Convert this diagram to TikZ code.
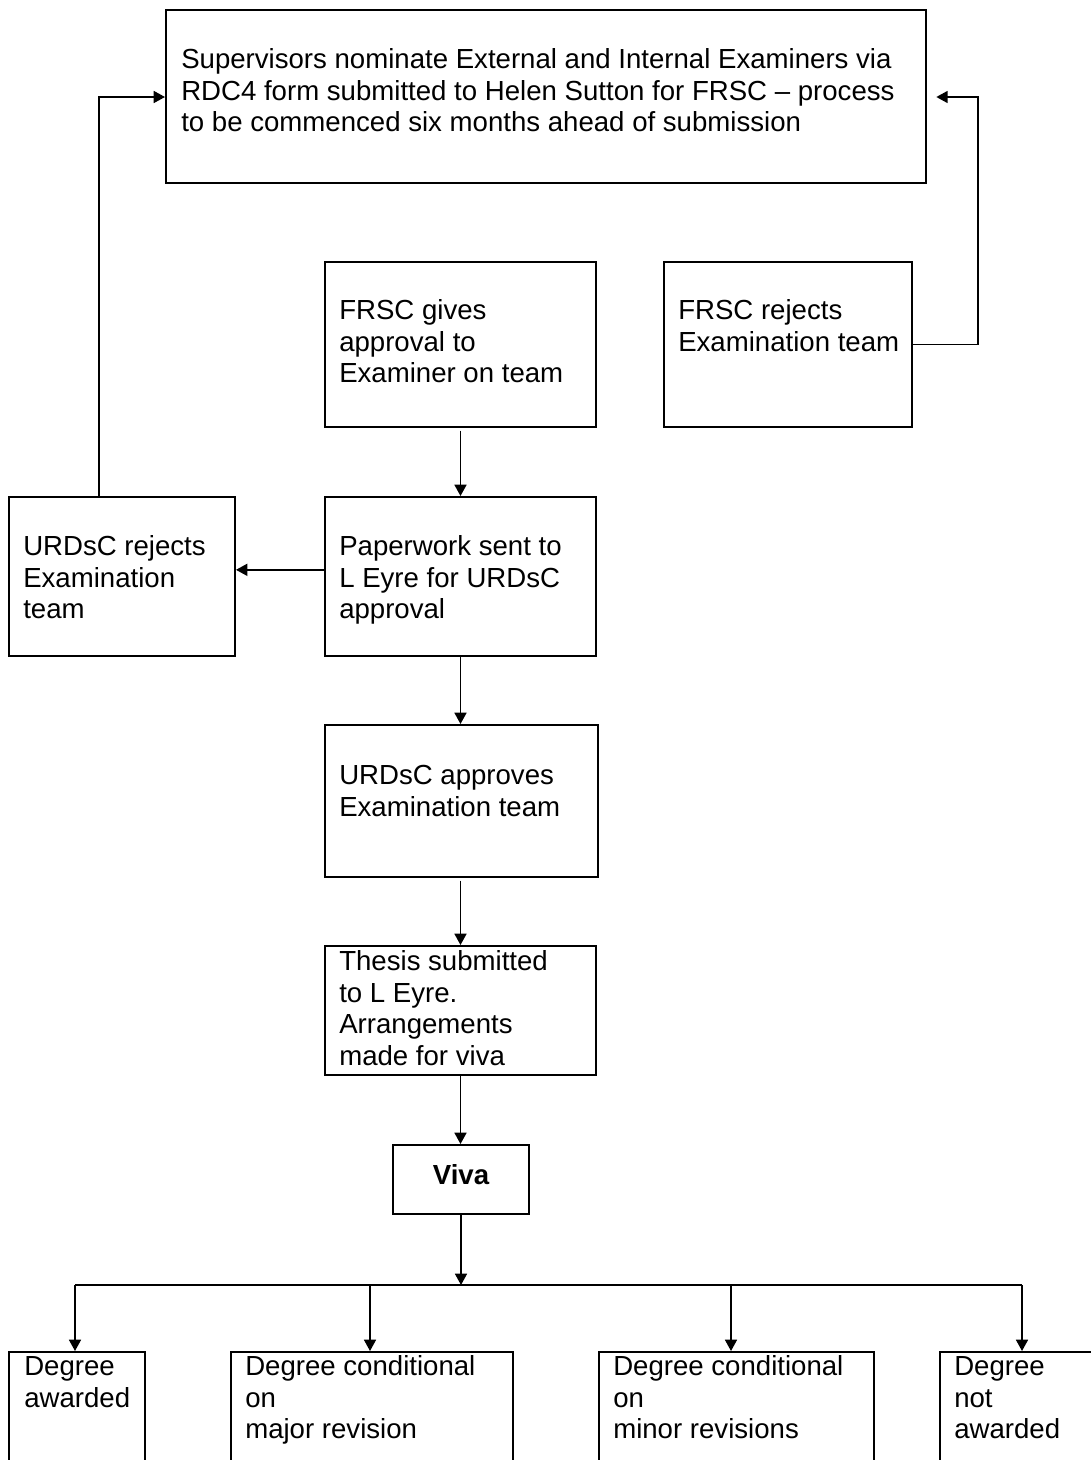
\documentclass[tikz,border=0pt]{standalone}
\usepackage{fontspec}
\setmainfont{Liberation Sans}
\usetikzlibrary{arrows.meta}
\newcommand{\mkbox}[5]{\node[box, minimum width={(#4-#2)*0.75pt}, minimum height={(#5-#3)*0.75pt}] (#1) at ({(#2+#4)/2},{(#3+#5)/2}) {};}
\newcommand{\fst}{\rule{0pt}{15.5pt}}
\tikzset{
  box/.style={draw, line width=1.5pt, rectangle, inner sep=0pt},
  txt/.style={anchor=north west, inner sep=0pt, align=left, font=\fontsize{20.7}{23.6}\selectfont},
  arr/.style={line width=1.2pt, -{Triangle[length=8.5pt,width=9pt]}},
  ln/.style={line width=1.2pt}
}
\begin{document}
\begin{tikzpicture}[x=0.75pt,y=-0.75pt]
\useasboundingbox[fill=white] (0,0) rectangle (1091,1460);
\clip (0,0) rectangle (1091,1460);
% boxes
\mkbox{top}{166}{10}{926}{183}
\mkbox{fgive}{325}{262}{596}{427}
\mkbox{frej}{664}{262}{912}{427}
\mkbox{urej}{9}{497}{235}{656}
\mkbox{paper}{325}{497}{596}{656}
\mkbox{uapp}{325}{725}{598}{877}
\mkbox{thesis}{325}{946}{596}{1075}
\mkbox{viva}{393}{1145}{529}{1214}
\mkbox{b1}{9}{1352}{145}{1490}
\mkbox{b2}{231}{1352}{513}{1490}
\mkbox{b3}{599}{1352}{874}{1490}
\mkbox{b4}{940}{1352}{1110}{1490}
% texts
\node[txt] (ttop) at (181,48) {\fst Supervisors nominate External and Internal Examiners via\\RDC4 form submitted to Helen Sutton for FRSC – process\\to be commenced six months ahead of submission};
\node[txt] (tfgive) at (339,299) {\fst FRSC gives\\approval to\\Examiner on team};
\node[txt] (tfrej) at (678,299) {\fst FRSC rejects\\Examination team};
\node[txt] (turej) at (23,535) {\fst URDsC rejects\\Examination\\team};
\node[txt] (tpaper) at (339,535) {\fst Paperwork sent to\\L Eyre for URDsC\\approval};
\node[txt] (tuapp) at (339,764) {\fst URDsC approves\\Examination team};
\node[txt] (tthesis) at (339,950) {\fst Thesis submitted\\to L Eyre.\\Arrangements\\made for viva};
\node[anchor=base, inner sep=0pt, font=\fontsize{20.7}{23.6}\selectfont\bfseries] (tviva) at (461,1184) {Viva};
\node[txt] (tb1) at (24,1355) {\fst Degree\\awarded};
\node[txt] (tb2) at (245,1355) {\fst Degree conditional\\on\\major revision};
\node[txt] (tb3) at (613,1355) {\fst Degree conditional\\on\\minor revisions};
\node[txt] (tb4) at (954,1355) {\fst Degree\\not\\awarded};
% connectors
\coordinate (lc) at (99,97);
\coordinate (rc) at (978,97);
\draw[arr] (urej.north -| lc) -- (lc) -- (top.west |- lc);
\draw[arr, shorten >=7pt] (frej.east) -| (rc) -- (top.east |- rc);
\draw[arr] ([yshift=-2pt]fgive.south) -- (paper.north);
\draw[arr] ([yshift=5pt]paper.west) -- ([yshift=5pt]urej.east);
\draw[arr] (paper.south) -- (uapp.north -| paper.south);
\draw[arr] ([yshift=-2pt]uapp.south -| paper.south) -- (thesis.north);
\draw[arr] (thesis.south) -- (viva.north -| thesis.south);
\coordinate (hl) at (75,1285);
\coordinate (hr) at (1022,1285);
\coordinate (d2) at (370,1285);
\coordinate (d3) at (731,1285);
\draw[ln] (hl) -- (hr);
\draw[arr] (viva.south) -- (viva.south |- hl);
\draw[arr] (hl) -- (b1.north -| hl);
\draw[arr] (d2) -- (b2.north -| d2);
\draw[arr] (d3) -- (b3.north -| d3);
\draw[arr] (hr) -- (b4.north -| hr);
\end{tikzpicture}
\end{document}
